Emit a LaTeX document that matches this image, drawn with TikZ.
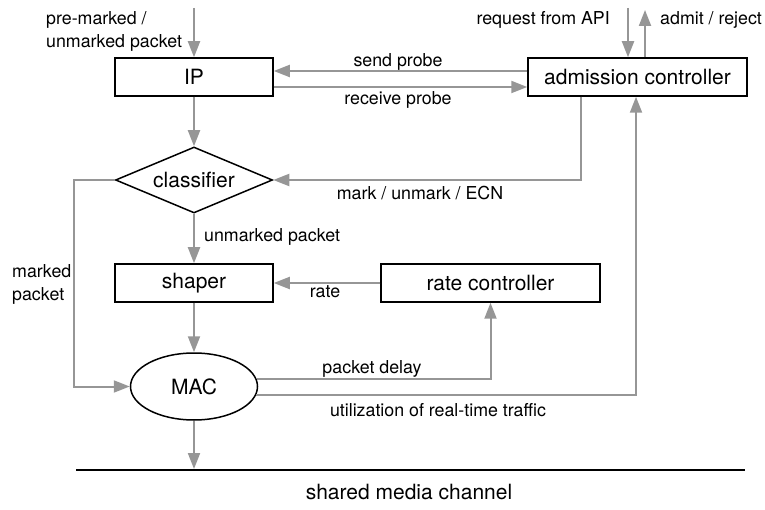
\documentclass[tikz,border=0pt]{standalone}
\usepackage{fontspec}
\setmainfont{TeX Gyre Heros}
\usetikzlibrary{arrows.meta,shapes.geometric,calc}
\definecolor{flowgray}{RGB}{150,150,150}
\tikzset{
  shapeline/.style={draw=black, line width=1.5pt, inner sep=0pt, font=\fontsize{21}{25}\selectfont},
  block/.style={shapeline, rectangle, minimum height=38pt},
  flow/.style={draw=flowgray, line width=2pt, -{Triangle[length=16pt,width=12pt]}},
  plainflow/.style={draw=flowgray, line width=2pt},
  lbl/.style={font=\fontsize{17.8}{23}\selectfont, inner sep=0pt},
}
\begin{document}
\begin{tikzpicture}[x=1pt,y=-1pt]
\useasboundingbox (0,0) rectangle (765,510);

% functional blocks
\node[block, minimum width=158pt] (ip) at (194,77) {IP};
\node[block, minimum width=219pt] (adm) at (637.5,77) {admission controller};
\node[shapeline, diamond, aspect=2.4, minimum width=157pt, minimum height=66pt] (cls) at (194,180) {classifier};
\node[block, minimum width=158pt] (shp) at (194,283) {shaper};
\node[block, minimum width=219pt] (rc) at (490.5,283) {rate controller};
\node[shapeline, ellipse, minimum width=127pt, minimum height=67pt] (mac) at (194,386.5) {MAC};

% free ends and the channel
\coordinate (pktin) at (194,8);
\coordinate (reqin) at (628,8);
\coordinate (admout) at (645,10);
\coordinate (chanL) at (76,470);
\coordinate (chanR) at (745,470);
\coordinate (chan) at (194,469);
\draw[black, line width=1.6pt] (chanL) -- (chanR);

% connectors
\draw[flow] (pktin) -- (ip.north);
\draw[flow] (reqin) -- (reqin |- adm.north);
\draw[flow] (admout |- adm.north) -- (admout);
\draw[flow] ([yshift=6pt]adm.west) -- ([yshift=6pt]ip.east);
\draw[flow] ([yshift=-10pt]ip.east) -- ([yshift=-10pt]adm.west);
\draw[flow] (ip.south) -- (cls.north);
\draw[flow] ([xshift=-56.5pt]adm.south) |- (cls.east);
\draw[flow] (cls.west) -- ++(-41,0) |- (mac.west);
\draw[flow] (cls.south) -- (shp.north);
\draw[flow] (rc.west) -- (shp.east);
\draw[flow] (shp.south) -- (mac.north);
\draw[flow] (mac.7) -| (rc.south);
\draw[flow] (mac.-8) -| ([xshift=-1.5pt]adm.south);
\draw[flow] (mac.south) -- (chan);

% labels
\node[lbl, anchor=west, align=left] (lin) at (46,31) {pre-marked /\\unmarked packet};
\node[lbl, anchor=east] (lreq) at (610,20) {request from API};
\node[lbl, anchor=west] (ladm) at (660,20) {admit / reject};
\node[lbl] (lsend) at (398,62) {send probe};
\node[lbl] (lrecv) at (398,100) {receive probe};
\node[lbl] (lmark) at (420,193) {mark / unmark / ECN};
\node[lbl, anchor=west] (lunm) at (204,237) {unmarked packet};
\node[lbl, anchor=west, align=left] (lmkd) at (12,284) {marked\\packet};
\node[lbl] (lrate) at (325,292) {rate};
\node[lbl] (ldelay) at (372,369) {packet delay};
\node[lbl] (lutil) at (438,410) {utilization of real-time traffic};
\node[font=\fontsize{21}{25}\selectfont, inner sep=0pt] (lchan) at (409,492) {shared media channel};
\end{tikzpicture}
\end{document}
